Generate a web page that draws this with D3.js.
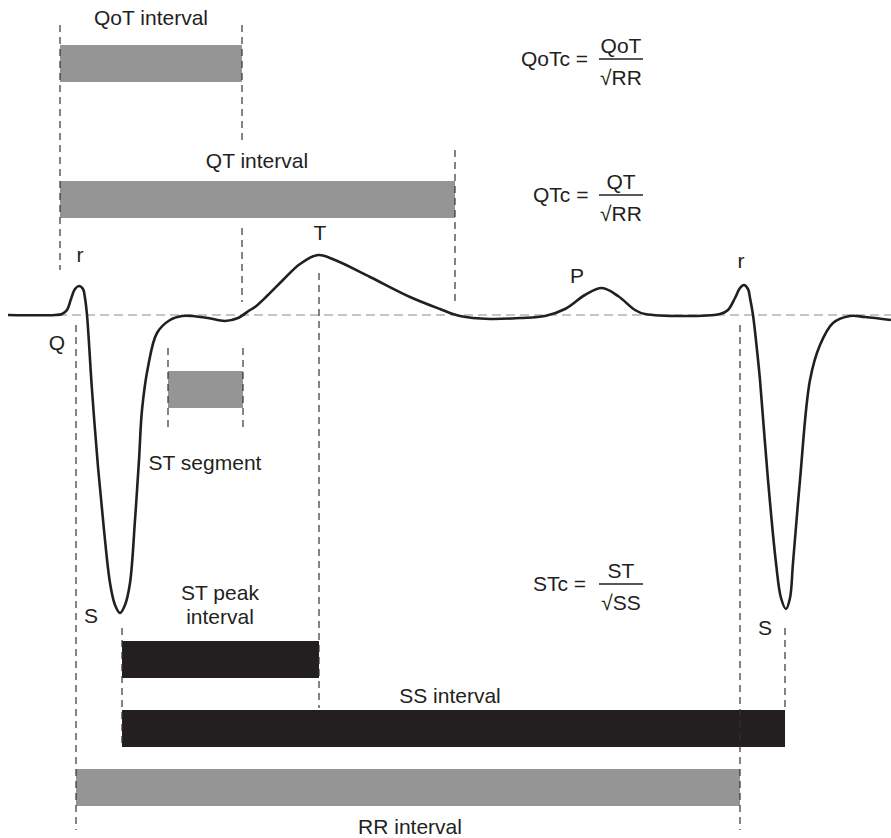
<html>
<head>
<meta charset="UTF-8"/>
<script src="https://d3js.org/d3.v7.min.js"></script>
<title>ECG intervals</title>
<style>
body { margin:0; background:#fff; }
text {
	font-family: "Liberation Sans", Arial, Helvetica, sans-serif;
	font-size: 21px;
	fill: #231f20;
}
.guide {
	stroke: #333;
	stroke-width: 1.2;
	stroke-dasharray: 7 5;
}
.baseline {
	stroke: #8c8c8c;
	stroke-width: 1.2;
	stroke-dasharray: 9 5;
}
.trace {
	fill: none;
	stroke: #231f20;
	stroke-width: 2.6;
}
</style>
</head>

<body>
<svg id='big' width=891 height=838></svg>

<script>
'use strict';

// one beat-and-a-bit of the trace: time (ms) and amplitude (mV)
var traceTime = [0, 47, 54, 59, 63, 67, 71, 75, 77, 79, 84, 90, 96, 102, 107, 112, 117, 122, 127, 131,
	134, 140, 149, 162, 174, 184, 200, 217, 230, 242, 247, 260, 275, 292, 310, 327, 362, 402, 432, 452,
	482, 512, 537, 557, 577, 594, 610, 627, 637, 712, 720, 727, 732, 736, 740, 742, 745, 749, 752, 760,
	768, 773, 778, 782, 785, 792, 802, 812, 825, 842, 857, 883];
var traceVolt = [0, 0, 0.01, 0.05, 0.16, 0.26, 0.29, 0.26, 0.17, 0, -0.75, -1.52, -2.15, -2.68, -2.9, -2.98, -2.9, -2.68, -2.05, -1.45,
	-0.95, -0.52, -0.18, -0.05, -0.01, -0.01, -0.03, -0.06, -0.03, 0.05, 0.08, 0.2, 0.35, 0.51, 0.6, 0.55, 0.38, 0.18, 0.06, -0.01,
	-0.04, -0.03, -0.01, 0.06, 0.2, 0.27, 0.19, 0.05, 0.01, 0.01, 0.05, 0.17, 0.27, 0.3, 0.26, 0.17, 0, -0.35, -0.65, -1.65,
	-2.48, -2.83, -2.94, -2.83, -2.48, -1.65, -0.65, -0.3, -0.08, -0.01, -0.02, -0.05];

// measured intervals (ms)
var intervalNames = ['QoT interval', 'QT interval', 'ST segment', 'ST peak interval', 'SS interval', 'RR interval'];
var intervalStart = [52, 52, 160, 114, 114, 68];
var intervalEnd   = [234, 447, 235, 311, 777, 732];

// wave labels: name, time (ms)
var waveNames = ['r', 'Q', 'T', 'P', 'r', 'S', 'S'];
var waveTimes = [72, 49, 312, 569, 733, 83, 757];

// corrected-interval formulas
var formulaLeft = ['QoTc =', 'QTc =', 'STc ='];
var formulaNum  = ['QoT', 'QT', 'ST'];
var formulaDen  = ['\u221ARR', '\u221ARR', '\u221ASS'];


var svg = d3.select('#big');

var sx = d3.scaleLinear().domain([0, 883]).range([8, 891]);
var sy = d3.scaleLinear().domain([-3, 1]).range([615, 215]);

// layout (pixels) for the bars, guides and labels
var barTop = [45, 181, 371, 641, 710, 769];
var barH = 37;
var barFill = ['#959595', '#959595', '#959595', '#231f20', '#231f20', '#959595'];

var guides = [
	{t: 52, y1: 25, y2: 270},
	{t: 234, y1: 25, y2: 140},
	{t: 234, y1: 228, y2: 302},
	{t: 447, y1: 150, y2: 302},
	{t: 160, y1: 348, y2: 428},
	{t: 235, y1: 348, y2: 428},
	{t: 68, y1: 325, y2: 830},
	{t: 732, y1: 325, y2: 830},
	{t: 114, y1: 628, y2: 748},
	{t: 777, y1: 628, y2: 710},
	{t: 311, y1: 273, y2: 708}
];

var waveY = [262, 350, 240, 283, 268, 623, 635];

var labelPos = [
	{x: 151, y: [25]},
	{x: 257, y: [168]},
	{x: 205, y: [470]},
	{x: 220, y: [600, 624]},
	{x: 450, y: [703]},
	{x: 410, y: [834]}
];

var formulaX = [521, 533, 533];
var formulaLine = [59, 195, 584];
var fracX1 = 599, fracX2 = 643;

svg.append('line')
.attr('class', 'baseline')
.attr('x1', sx(50))
.attr('x2', sx(883))
.attr('y1', sy(0))
.attr('y2', sy(0));

svg.selectAll('.bar')
.data(intervalNames)
.enter()
.append('rect')
.attr('class', 'bar')
.attr('x', function(d, i){return sx(intervalStart[i])})
.attr('width', function(d, i){return sx(intervalEnd[i]) - sx(intervalStart[i])})
.attr('y', function(d, i){return barTop[i]})
.attr('height', barH)
.attr('fill', function(d, i){return barFill[i]});

svg.selectAll('.guide')
.data(guides)
.enter()
.append('line')
.attr('class', 'guide')
.attr('x1', function(d){return sx(d.t)})
.attr('x2', function(d){return sx(d.t)})
.attr('y1', function(d){return d.y1})
.attr('y2', function(d){return d.y2});

var line = d3.line()
.x(function(d){return sx(d[0])})
.y(function(d){return sy(d[1])})
.curve(d3.curveCatmullRom.alpha(0.5));

svg.append('path')
.attr('class', 'trace')
.attr('d', line(d3.zip(traceTime, traceVolt)));

svg.selectAll('.wave')
.data(waveNames)
.enter()
.append('text')
.attr('class', 'wave')
.attr('text-anchor', 'middle')
.attr('x', function(d, i){return sx(waveTimes[i])})
.attr('y', function(d, i){return waveY[i]})
.text(function(d){return d});

var labels = svg.selectAll('.label')
.data(intervalNames)
.enter()
.append('text')
.attr('class', 'label')
.attr('text-anchor', 'middle');

labels.each(function(d, i){
	var parts = d == 'ST peak interval' ? ['ST peak', 'interval'] : [d];
	d3.select(this)
	.selectAll('tspan')
	.data(parts).enter()
	.append('tspan')
	.attr('x', labelPos[i].x)
	.attr('y', function(e, j){return labelPos[i].y[j]})
	.text(function(e){return e});
});

var formulas = svg.selectAll('.formula')
.data(formulaLeft)
.enter()
.append('g')
.attr('class', 'formula')
.attr('transform', function(d, i){return 'translate(0,' + formulaLine[i] + ')'});

formulas.append('text')
.attr('x', function(d, i){return formulaX[i]})
.attr('y', 7)
.text(function(d){return d});

formulas.append('line')
.attr('x1', fracX1)
.attr('x2', fracX2)
.attr('y1', 0)
.attr('y2', 0)
.attr('stroke', '#231f20')
.attr('stroke-width', 1.5);

formulas.append('text')
.attr('text-anchor', 'middle')
.attr('x', (fracX1 + fracX2) / 2)
.attr('y', -6)
.text(function(d, i){return formulaNum[i]});

formulas.append('text')
.attr('text-anchor', 'middle')
.attr('x', (fracX1 + fracX2) / 2)
.attr('y', 26)
.text(function(d, i){return formulaDen[i]});
</script>

</body>
</html>
